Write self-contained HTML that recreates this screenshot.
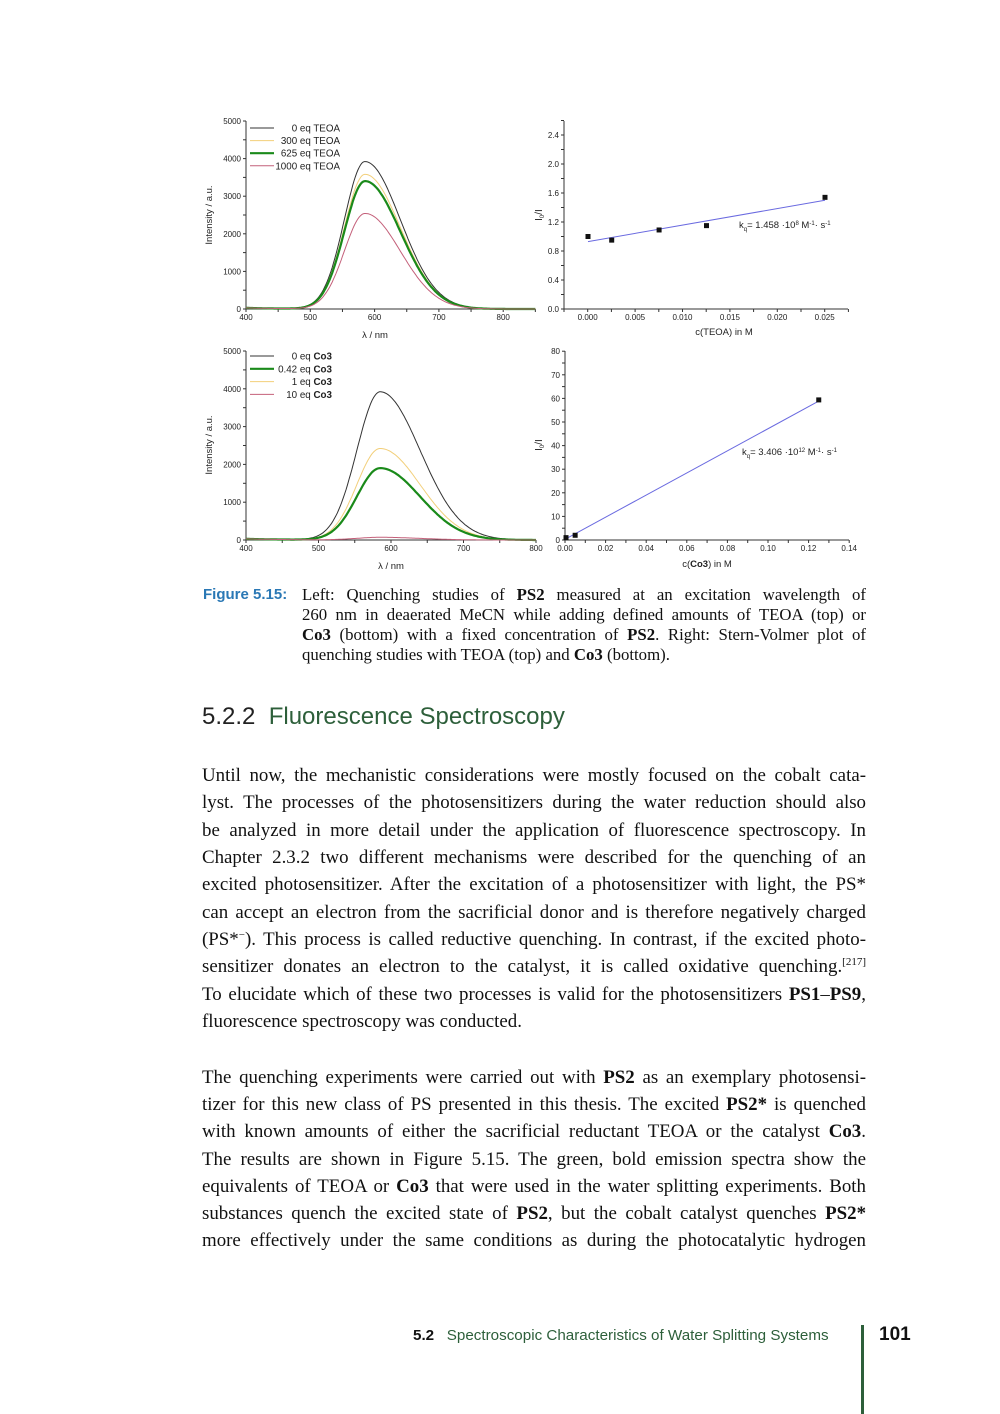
<!DOCTYPE html>
<html><head><meta charset="utf-8">
<style>
html,body{margin:0;padding:0;background:#fff;}
body{width:1000px;height:1414px;position:relative;overflow:hidden;}
.l{position:absolute;left:202px;width:664px;font-family:"Liberation Serif",serif;font-size:18.9px;line-height:27px;white-space:nowrap;text-align:justify;text-align-last:justify;color:#111;}
.c{position:absolute;left:302px;width:564px;font-family:"Liberation Serif",serif;font-size:16.8px;line-height:20px;white-space:nowrap;text-align:justify;text-align-last:justify;color:#111;}
.last{text-align-last:left;}
sup{font-size:11px;line-height:0;vertical-align:0;position:relative;top:-7px;}
svg text{font-family:"Liberation Sans",sans-serif;}
</style></head><body>
<svg id="s" width="1000" height="600" style="position:absolute;left:0;top:0" xmlns="http://www.w3.org/2000/svg"></svg>

<div style="position:absolute;left:203px;top:586px;font-family:'Liberation Sans',sans-serif;font-weight:bold;font-size:15px;color:#2a78b5;">Figure 5.15:</div>
<div class="c" style="top:585px">Left: Quenching studies of <b>PS2</b> measured at an excitation wavelength of</div>
<div class="c" style="top:605px">260 nm in deaerated MeCN while adding defined amounts of TEOA (top) or</div>
<div class="c" style="top:625px"><b>Co3</b> (bottom) with a fixed concentration of <b>PS2</b>. Right: Stern-Volmer plot of</div>
<div class="c last" style="top:645px">quenching studies with TEOA (top) and <b>Co3</b> (bottom).</div>

<div style="position:absolute;left:202px;top:703px;font-family:'Liberation Sans',sans-serif;font-size:24px;color:#222;">5.2.2&nbsp;&nbsp;<span style="color:#2d5f3a">Fluorescence Spectroscopy</span></div>

<div class="l" style="top:762px">Until now, the mechanistic considerations were mostly focused on the cobalt cata-</div>
<div class="l" style="top:789px">lyst. The processes of the photosensitizers during the water reduction should also</div>
<div class="l" style="top:817px">be analyzed in more detail under the application of fluorescence spectroscopy. In</div>
<div class="l" style="top:844px">Chapter 2.3.2 two different mechanisms were described for the quenching of an</div>
<div class="l" style="top:871px">excited photosensitizer. After the excitation of a photosensitizer with light, the PS*</div>
<div class="l" style="top:899px">can accept an electron from the sacrificial donor and is therefore negatively charged</div>
<div class="l" style="top:926px">(PS*<sup>−</sup>). This process is called reductive quenching. In contrast, if the excited photo-</div>
<div class="l" style="top:953px">sensitizer donates an electron to the catalyst, it is called oxidative quenching.<sup>[217]</sup></div>
<div class="l" style="top:981px">To elucidate which of these two processes is valid for the photosensitizers <b>PS1</b>–<b>PS9</b>,</div>
<div class="l last" style="top:1008px">fluorescence spectroscopy was conducted.</div>

<div class="l" style="top:1064px">The quenching experiments were carried out with <b>PS2</b> as an exemplary photosensi-</div>
<div class="l" style="top:1091px">tizer for this new class of PS presented in this thesis. The excited <b>PS2*</b> is quenched</div>
<div class="l" style="top:1118px">with known amounts of either the sacrificial reductant TEOA or the catalyst <b>Co3</b>.</div>
<div class="l" style="top:1146px">The results are shown in Figure 5.15. The green, bold emission spectra show the</div>
<div class="l" style="top:1173px">equivalents of TEOA or <b>Co3</b> that were used in the water splitting experiments. Both</div>
<div class="l" style="top:1200px">substances quench the excited state of <b>PS2</b>, but the cobalt catalyst quenches <b>PS2*</b></div>
<div class="l" style="top:1227px">more effectively under the same conditions as during the photocatalytic hydrogen</div>

<div style="position:absolute;left:413px;top:1327px;font-family:'Liberation Sans',sans-serif;font-size:15.2px;color:#2d5f3a;"><b style="color:#111">5.2</b>&nbsp;&nbsp;&nbsp;Spectroscopic Characteristics of Water Splitting Systems</div>
<div style="position:absolute;left:861px;top:1325px;width:3px;height:89px;background:#2d5f3a;"></div>
<div style="position:absolute;left:879px;top:1324px;font-family:'Liberation Sans',sans-serif;font-size:19px;font-weight:bold;color:#111;">101</div>

<script>
var s=document.getElementById('s'),h='';
function ln(x1,y1,x2,y2,c,w){h+='<line x1="'+x1+'" y1="'+y1+'" x2="'+x2+'" y2="'+y2+'" stroke="'+(c||'#333')+'" stroke-width="'+(w||1)+'"/>';}
function tx(x,y,t,a,sz,extra){h+='<text x="'+x+'" y="'+y+'" font-size="'+(sz||8)+'" text-anchor="'+(a||'middle')+'" fill="#222" '+(extra||'')+'>'+t+'</text>';}
function axes(x0,x1,y0,y1,xt,yt){
 ln(x0,y0,x1,y0);ln(x0,y0,x0,y1);
 xt.forEach(function(t){ln(t[0],y0,t[0],y0+3);if(t[1]!=null)tx(t[0],y0+11,t[1]);});
 yt.forEach(function(t){ln(x0-3,t[0],x0,t[0]);if(t[1]!=null)tx(x0-5,t[0]+3,t[1],'end');});
}
function spec(xa,xb,w0,w1,ya,yb,A,col,w,wmax){
 var d='';for(var wl=400;wl<=wmax;wl+=2){var s=wl<585?32:55;var v=A*Math.exp(-Math.pow((wl-585)/s,2)/2)+30*Math.exp(-(wl-400)/60);
 var X=xa+(wl-w0)/(w1-w0)*(xb-xa),Y=ya-v/5000*(ya-yb);d+=(d?'L':'M')+X.toFixed(1)+' '+Y.toFixed(1);}
 h+='<path d="'+d+'" fill="none" stroke="'+col+'" stroke-width="'+w+'"/>';
}
var xt=[],yt=[];
for(var i=0;i<=9;i++){var x=246+i*32.15;xt.push([x,i%2==0&&i<9?(400+i*50):null]);}
for(i=0;i<=10;i++){yt.push([309-i*18.8,i%2==0?(i*500):null]);}
axes(246,535,309,121,xt,yt);
spec(246,503.2,400,800,309,121,3920,'#333',1,850);
spec(246,503.2,400,800,309,121,3580,'#f2cf7a',1,850);
spec(246,503.2,400,800,309,121,3400,'#1a8a1a',2.2,850);
spec(246,503.2,400,800,309,121,2540,'#c4607a',1,850);
tx(375,338,'λ / nm','middle',9.5);
tx(212,215,'Intensity / a.u.','middle',9.5,'transform="rotate(-90 212 215)"');
var lg=[['0 eq TEOA','#333',1],['300 eq TEOA','#f2cf7a',1],['625 eq TEOA','#1a8a1a',2.2],['1000 eq TEOA','#c4607a',1]];
lg.forEach(function(g,i){var y=128+i*12.6;ln(250,y,274,y,g[1],g[2]);tx(340,y+3.5,g[0],'end',9.8);});
xt=[];yt=[];
for(i=0;i<=12;i++){var x=564+i*23.7;var v=-0.0025+i*0.0025;xt.push([x,(i%2==1)?v.toFixed(3):null]);}
for(i=0;i<=13;i++){yt.push([309-i*14.5,i%2==0&&i<13?(i*0.2).toFixed(1):null]);}
axes(564,848,309,121,xt,yt);
function sx1(c){return 588+c/0.005*47.4;}function sy1(v){return 309-v/0.4*29;}
ln(sx1(0),sy1(0.93),sx1(0.025),sy1(1.5),'#6a6ae0',1);
[[0,1.0],[0.0025,0.95],[0.0075,1.09],[0.0125,1.15],[0.025,1.54]].forEach(function(p){h+='<rect x="'+(sx1(p[0])-2.5)+'" y="'+(sy1(p[1])-2.5)+'" width="5" height="5" fill="#111"/>';});
h+='<text x="739" y="228" font-size="9.5" fill="#222">k<tspan font-size="6" dy="3">q</tspan><tspan dy="-3">= 1.458 ·10</tspan><tspan font-size="6" dy="-3">8</tspan><tspan dy="3"> M</tspan><tspan font-size="6" dy="-3">-1</tspan><tspan dy="3">· s</tspan><tspan font-size="6" dy="-3">-1</tspan></text>';
tx(724,335,'c(TEOA) in M','middle',9.5);
tx(542,215,'I<tspan font-size="6" dy="2">0</tspan><tspan dy="-2">/I</tspan>','middle',10,'transform="rotate(-90 542 215)"');
xt=[];yt=[];
for(i=0;i<=8;i++){var x=246+i*36.25;xt.push([x,i%2==0?(400+i*50):null]);}
for(i=0;i<=10;i++){yt.push([540-i*18.9,i%2==0?(i*500):null]);}
axes(246,536,540,351,xt,yt);
spec(246,536,400,800,540,351,3920,'#333',1,800);
spec(246,536,400,800,540,351,2420,'#f2cf7a',1,800);
spec(246,536,400,800,540,351,1900,'#1a8a1a',2.2,800);
spec(246,536,400,800,540,351,70,'#c4607a',1,800);
tx(391,569,'λ / nm','middle',9.5);
tx(212,445,'Intensity / a.u.','middle',9.5,'transform="rotate(-90 212 445)"');
lg=[['0 eq ','#333',1],['0.42 eq ','#1a8a1a',2.2],['1 eq ','#f2cf7a',1],['10 eq ','#c4607a',1]];
lg.forEach(function(g,i){var y=356+i*12.8;ln(250,y,274,y,g[1],g[2]);tx(332,y+3.5,g[0]+'<tspan font-weight="bold">Co3</tspan>','end',9.8);});
xt=[];yt=[];
for(i=0;i<=14;i++){var x=565+i*20.3;xt.push([x,i%2==0?(i*0.01).toFixed(2):null]);}
for(i=0;i<=16;i++){yt.push([540-i*11.8,i%2==0?(i*5):null]);}
axes(565,849,540,351,xt,yt);
function sx2(c){return 565+c/0.02*40.6;}function sy2(v){return 540-v/80*189;}
ln(sx2(0),sy2(0.3),sx2(0.125),sy2(58.8),'#6a6ae0',1);
[[0.0005,1],[0.005,2],[0.125,59.3]].forEach(function(p){h+='<rect x="'+(sx2(p[0])-2.5)+'" y="'+(sy2(p[1])-2.5)+'" width="5" height="5" fill="#111"/>';});
h+='<text x="742" y="455" font-size="9.5" fill="#222">k<tspan font-size="6" dy="3">q</tspan><tspan dy="-3">= 3.406 ·10</tspan><tspan font-size="6" dy="-3">12</tspan><tspan dy="3"> M</tspan><tspan font-size="6" dy="-3">-1</tspan><tspan dy="3">· s</tspan><tspan font-size="6" dy="-3">-1</tspan></text>';
tx(707,567,'c(<tspan font-weight="bold">Co3</tspan>) in M','middle',9.5);
tx(542,445,'I<tspan font-size="6" dy="2">0</tspan><tspan dy="-2">/I</tspan>','middle',10,'transform="rotate(-90 542 445)"');
s.innerHTML=h;
</script>
</body></html>
